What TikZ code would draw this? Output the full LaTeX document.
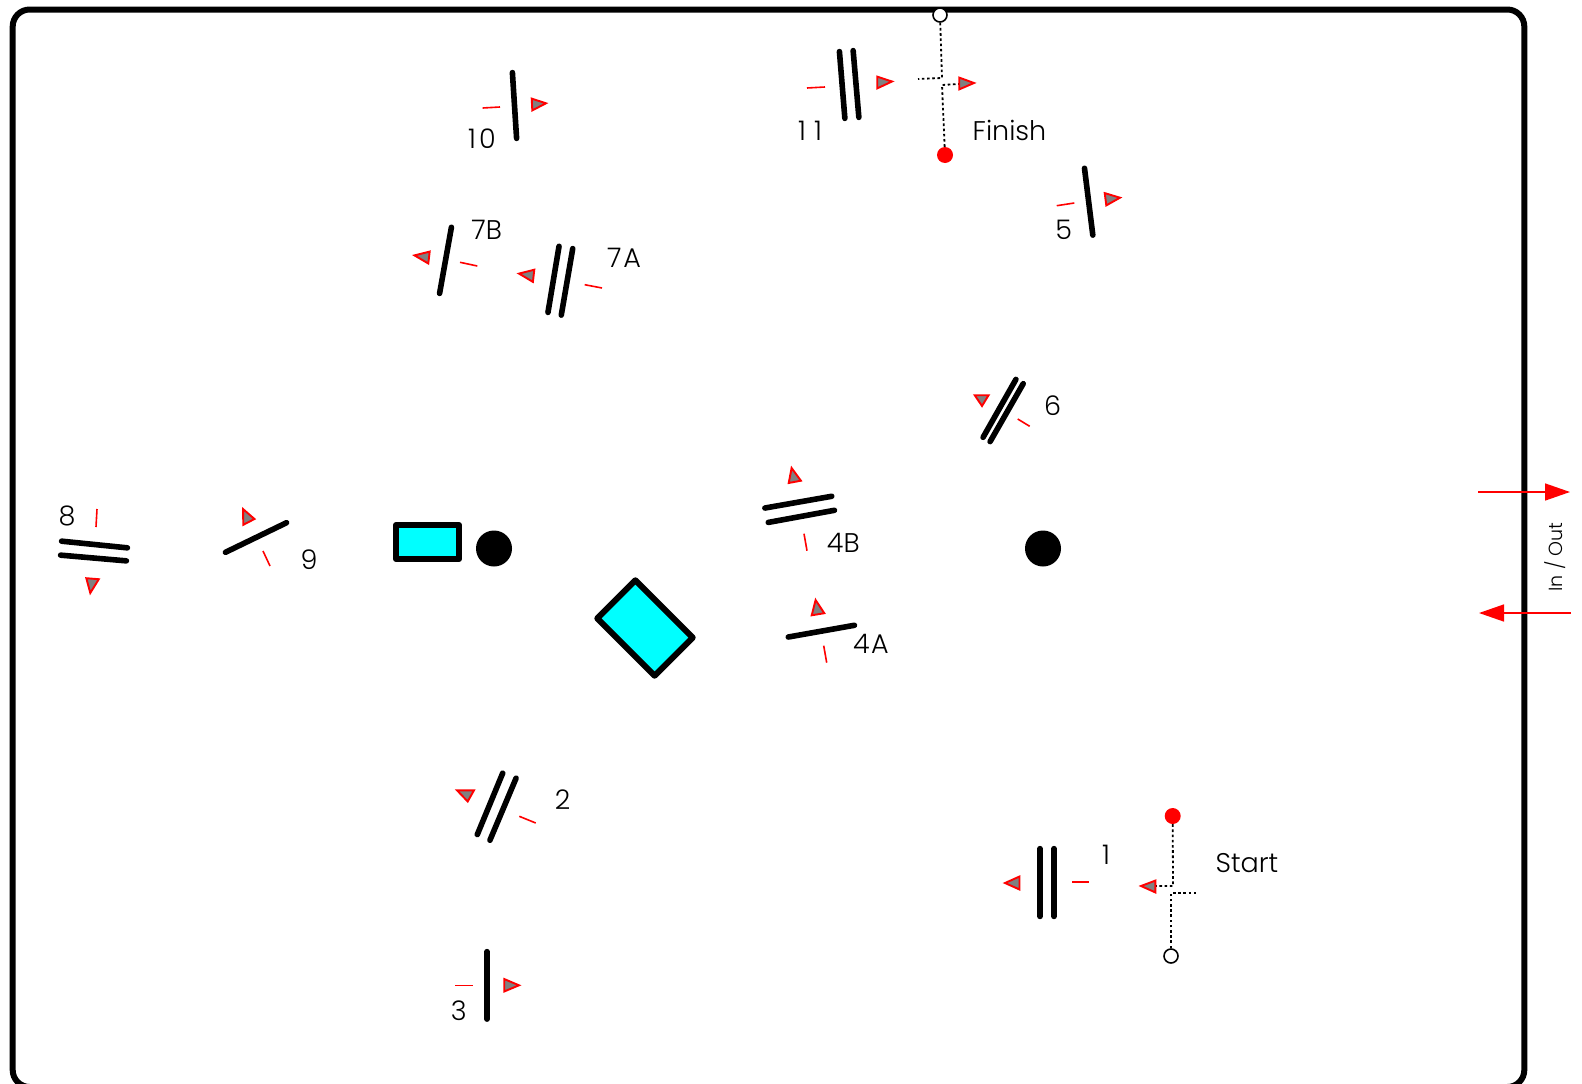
\documentclass[tikz,border=0pt]{standalone}
\usepackage{fontspec}
\setmainfont{Poppins Light}
\usetikzlibrary{arrows.meta}
\definecolor{BeamRed}{RGB}{255,0,0}
\definecolor{CellCyan}{RGB}{0,255,255}
\definecolor{MarkGray}{RGB}{128,128,128}
\begin{document}
\begin{tikzpicture}[
  x=1pt, y=-1pt,
  frame/.style={line width=6pt, rounded corners=17pt},
  mirror/.style={line width=5.6pt, line cap=round, shorten >=1.6pt, shorten <=1.6pt},
  redtick/.style={line width=1.6pt, draw=BeamRed},
  wedge/.style={line width=1.9pt, draw=BeamRed, fill=MarkGray, line join=miter},
  dotline/.style={line width=1.8pt, dash pattern=on 2.6pt off 2.6pt},
  tag/.style={inner sep=0pt, font=\fontsize{27}{32}\selectfont},
  reddot/.style={circle, fill=BeamRed, minimum size=16pt, inner sep=0pt},
  openpt/.style={circle, draw, line width=1.6pt, fill=white, minimum size=14pt, inner sep=0pt},
  hub/.style={circle, fill=black, minimum size=36pt, inner sep=0pt},
  cell/.style={draw, line width=6pt, fill=CellCyan, inner sep=0pt, line join=round},
  inout/.style={draw=BeamRed, line width=1.5pt, -{Triangle[length=25pt,width=17pt]}}
]
\useasboundingbox (0,0) rectangle (1582,1084);
\draw[frame] (12.7,9.5) rectangle (1524.3,1087);

\node[cell, minimum width=63pt, minimum height=34pt] (cellbox) at (427.5,542) {};
\node[cell, minimum width=81pt, minimum height=54pt, rotate=-45] (celltilt) at (645,628) {};
\node[hub] (hubleft) at (494,548.5) {};
\node[hub] (hubright) at (1043,548.5) {};

\draw[mirror] (1040,847) -- (1040,918);
\draw[mirror] (1054,847) -- (1054,918);
\draw[redtick] (1072,882) -- (1089,882);
\draw[wedge] (1005,883) -- (1019.5,876.5) -- (1019.5,889.5) -- cycle;
\node[tag] (one) at (1106,855) {1};

\draw[mirror] (503.3,771.7) -- (476.7,836);
\draw[mirror] (516.7,776.7) -- (489.3,841.7);
\draw[redtick] (519.3,816.3) -- (535.7,823);
\draw[wedge] (457,790.3) -- (474,790.3) -- (467.7,801.5) -- cycle;
\node[tag] (two) at (562.7,800) {2};

\draw[mirror] (487,950) -- (487,1020.7);
\draw[redtick] (455,985.3) -- (472.7,985.3);
\draw[wedge] (504.2,979) -- (519,985.3) -- (504.2,991.5) -- cycle;
\node[tag] (three) at (458.7,1010.7) {3};

\draw[mirror] (786.7,637.3) -- (856,625);
\draw[redtick] (823.7,645.7) -- (826.7,662.7);
\draw[wedge] (815.6,600) -- (811.7,615.3) -- (824.3,613.2) -- cycle;
\node[tag] (fourA) at (871,643.5) {4\kern1.5pt A};

\draw[mirror] (763.3,508.3) -- (833.3,496);
\draw[mirror] (766.7,522.7) -- (836,510);
\draw[redtick] (804,533.7) -- (807,550.7);
\draw[wedge] (791.6,468) -- (788.7,483) -- (800.9,480.7) -- cycle;
\node[tag] (fourB) at (843.3,543) {4B};

\draw[mirror] (1084.3,166.7) -- (1093,236.7);
\draw[redtick] (1056.7,205.7) -- (1074.3,203);
\draw[wedge] (1104.7,193.1) -- (1120,197.7) -- (1106.3,205.4) -- cycle;
\node[tag] (five) at (1063.7,230) {5};

\draw[mirror] (1016.7,378) -- (982.3,438.7);
\draw[mirror] (1024,382.3) -- (989.3,443);
\draw[redtick] (1017.7,419) -- (1029.7,426.3);
\draw[wedge] (974.7,395.2) -- (988.6,395.2) -- (982,406) -- cycle;
\node[tag] (six) at (1052.7,406) {6};

\draw[mirror] (559.3,244.7) -- (547.7,314);
\draw[mirror] (573,247) -- (561,316.7);
\draw[redtick] (584.7,284.7) -- (602,288);
\draw[wedge] (519,273.6) -- (534.3,269.7) -- (532.9,281.9) -- cycle;
\node[tag] (sevenA) at (624,257.7) {7\kern2pt A};

\draw[mirror] (451.7,225.7) -- (439.3,295);
\draw[redtick] (460,262.3) -- (477.3,266);
\draw[wedge] (414.5,255.4) -- (429.7,251.6) -- (428.3,263.5) -- cycle;
\node[tag] (sevenB) at (486.7,230) {7B};

\draw[mirror] (60,541) -- (129,548);
\draw[mirror] (59,555) -- (128,561);
\draw[redtick] (97,509) -- (96,527);
\draw[wedge] (86.3,578.2) -- (98.8,579.2) -- (90.3,593) -- cycle;
\node[tag] (eight) at (67,516) {8};

\draw[mirror] (224,553) -- (288,522);
\draw[redtick] (263,551) -- (270,566);
\draw[wedge] (243,509) -- (254.5,519) -- (243.3,524.8) -- cycle;
\node[tag] (nine) at (309,560) {9};

\draw[mirror] (512.3,71) -- (516.7,140);
\draw[redtick] (482.7,108) -- (500,107);
\draw[wedge] (531.7,98.6) -- (546,103.3) -- (532.3,110.4) -- cycle;
\node[tag] (ten) at (482,138.5) {1\kern3pt 0};

\draw[mirror] (839.3,50) -- (845,120);
\draw[mirror] (853,49) -- (859,119);
\draw[redtick] (807,88) -- (825,87);
\draw[wedge] (877.2,76.6) -- (892,81.5) -- (877.2,88.4) -- cycle;
\node[tag] (eleven) at (810,131) {1\kern8pt 1};

\node[openpt] (finishopen) at (940,15) {};
\node[reddot] (finishdot) at (945,155) {};
\coordinate (finishtop) at (942,78);
\coordinate (finishleft) at (918,79);
\coordinate (finishlow) at (942,85);
\coordinate (finishright) at (959,84);
\draw[dotline] (finishopen) -- (finishtop) -- (finishleft);
\draw[dotline] (finishdot) -- (finishlow) -- (finishright);
\draw[wedge] (959.2,77.6) -- (974,83) -- (959.2,89.4) -- cycle;
\node[tag] (finishtag) at (1009.5,130) {Finish};

\node[reddot] (startdot) at (1172.7,816) {};
\node[openpt] (startopen) at (1171,956) {};
\coordinate (starttop) at (1173,886);
\coordinate (startleft) at (1155,886);
\coordinate (startlow) at (1171,893);
\coordinate (startright) at (1196,893);
\draw[dotline] (startdot) -- (starttop) -- (startleft);
\draw[dotline] (startopen) -- (startlow) -- (startright);
\draw[wedge] (1141,886) -- (1155.3,880.6) -- (1155.3,892.4) -- cycle;
\node[tag] (starttag) at (1247,863) {Start};

\coordinate (infrom) at (1478,492);
\coordinate (into) at (1570,492);
\coordinate (outfrom) at (1571,613);
\coordinate (outto) at (1479,613);
\draw[inout] (infrom) -- (into);
\draw[inout] (outfrom) -- (outto);
\node[tag, font=\fontsize{19}{23}\selectfont, rotate=90] (inouttag) at (1555,557) {In / Out};
\end{tikzpicture}
\end{document}
